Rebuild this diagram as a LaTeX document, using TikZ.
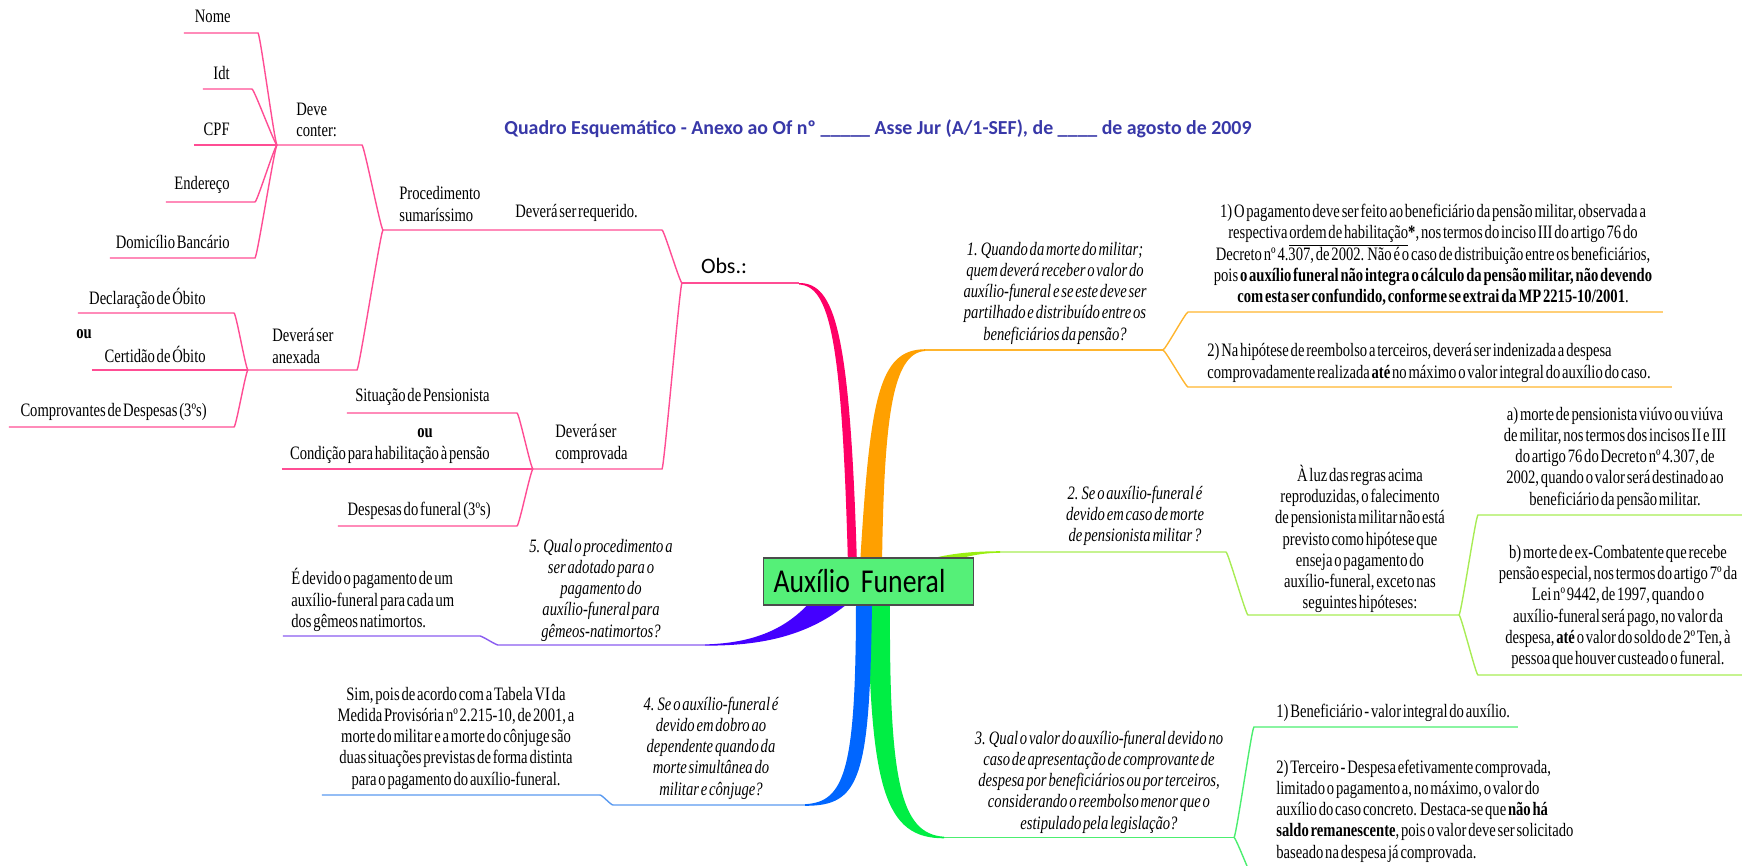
\documentclass[tikz,border=0pt]{standalone}
\usepackage{fontspec}
\setmainfont{Liberation Serif}[FakeStretch=0.77,WordSpace=0.5]
\newfontfamily\sansfont{Carlito}
\newfontfamily\ctrfont{Carlito}[FakeStretch=0.83]
\usepackage{tikz}
\definecolor{pk}{HTML}{FF0066}
\definecolor{pkl}{HTML}{FF4D94}
\definecolor{og}{HTML}{FFA000}
\definecolor{ogl}{HTML}{FFB52E}
\definecolor{lm}{HTML}{99EE11}
\definecolor{lml}{HTML}{A8EC55}
\definecolor{gn}{HTML}{00EE44}
\definecolor{gnl}{HTML}{4CEE70}
\definecolor{bl}{HTML}{0066FF}
\definecolor{bll}{HTML}{5A9AF0}
\definecolor{pu}{HTML}{4400FF}
\definecolor{pul}{HTML}{8A5CF0}
\definecolor{ttl}{HTML}{3838A8}
\definecolor{ctrfill}{HTML}{55F078}

\begin{document}
\begin{tikzpicture}[scale=0.2]
	\tikzstyle{every node}+=[inner sep=0pt]
	\tikzstyle{txt}=[font=\fontsize{10.8}{12.1}\selectfont,align=center]
	\tikzstyle{lft}=[txt,anchor=east,align=right]
	\tikzstyle{rgt}=[txt,anchor=west,align=left]
	\tikzstyle{bld}=[txt,font=\fontsize{10.8}{12.1}\selectfont\bfseries]
	\tikzstyle{qst}=[txt,font=\fontsize{10.8}{12.1}\selectfont\itshape]
	\tikzstyle{cv}=[out=0,in=180,distance=6pt]
	\tikzstyle{thin}=[line width=0.8pt]
	\useasboundingbox (0,0) rectangle (174.2,-86.5);
	\clip (0,0) rectangle (174.2,-86.5);
	\draw (87.8,-12.9) node (title) [font=\sansfont\bfseries\fontsize{11.3}{13}\selectfont,text=ttl] {Quadro Esquemático - Anexo ao Of nº \_\_\_\_\_ Asse Jur (A/1-SEF), de \_\_\_\_ de agosto de 2009};
	\draw (23.1,-1.6) node (nome) [lft] {Nome};
	\draw (23.0,-7.3) node (idt) [lft] {Idt};
	\draw (23.0,-12.9) node (cpf) [lft] {CPF};
	\draw (23.0,-18.5) node (ende) [lft] {Endereço};
	\draw (23.0,-24.2) node (dom) [lft] {Domicílio Bancário};
	\draw (29.6,-12.0) node (dvc) [rgt] {Deve\\conter:};
	\draw (39.9,-20.4) node (prc) [rgt] {Procedimento\\sumaríssimo};
	\draw (51.5,-21.3) node (req) [rgt] {Deverá ser requerido.};
	\draw (72.4,-26.6) node (obs) [font=\sansfont\fontsize{12.5}{14}\selectfont] {Obs.:};
	\draw (27.2,-34.6) node (anx) [rgt] {Deverá ser\\anexada};
	\draw (20.6,-29.8) node (decl) [lft] {Declaração de Óbito};
	\draw (8.4,-33.4) node (ou1) [bld] {ou};
	\draw (20.6,-35.4) node (cert) [lft] {Certidão de Óbito};
	\draw (20.7,-41.2) node (comp) [lft] {Comprovantes de Despesas (3ºs)};
	\draw (55.5,-44.4) node (cpv) [rgt] {Deverá ser\\comprovada};
	\draw (49.0,-39.7) node (sit) [lft] {Situação de Pensionista};
	\draw (42.5,-43.3) node (ou2) [bld] {ou};
	\draw (49.0,-45.5) node (cond) [lft] {Condição para habilitação à pensão};
	\draw (49.1,-51.1) node (desp) [lft] {Despesas do funeral (3ºs)};
	\draw (60.1,-59.0) node (q5) [qst] {5. Qual o procedimento a\\ser adotado para o\\pagamento do\\auxílio-funeral para\\gêmeos-natimortos?};
	\draw (29.1,-60.0) node (r5) [rgt] {É devido o pagamento de um\\auxílio-funeral para cada um\\dos gêmeos natimortos.};
	\draw (71.1,-74.8) node (q4) [qst] {4. Se o auxílio-funeral é\\devido em dobro ao\\dependente quando da\\morte simultânea do\\militar e cônjuge?};
	\draw (45.6,-73.8) node (r4) [txt] {Sim, pois de acordo com a Tabela VI da\\Medida Provisória nº 2.215-10, de 2001, a\\morte do militar e a morte do cônjuge são\\duas situações previstas de forma distinta\\para o pagamento do auxílio-funeral.};
	\draw (109.9,-78.2) node (q3) [qst] {3. Qual o valor do auxílio-funeral devido no\\caso de apresentação de comprovante de\\despesa por beneficiários ou por terceiros,\\considerando o reembolso menor que o\\estipulado pela legislação?};
	\draw (127.6,-71.3) node (r3a) [rgt] {1) Beneficiário - valor integral do auxílio.};
	\draw (127.6,-81.1) node (r3b) [rgt] {2) Terceiro - Despesa efetivamente comprovada,\\limitado o pagamento a, no máximo, o valor do\\auxílio do caso concreto. Destaca-se que \textbf{não há}\\\textbf{saldo remanescente}, pois o valor deve ser solicitado\\baseado na despesa já comprovada.};
	\draw (113.5,-51.6) node (q2) [qst] {2. Se o auxílio-funeral é\\devido em caso de morte\\de pensionista militar ?};
	\draw (136.0,-53.9) node (r2) [txt] {À luz das regras acima\\reproduzidas, o falecimento\\de pensionista militar não está\\previsto como hipótese que\\enseja o pagamento do\\auxílio-funeral, exceto nas\\seguintes hipóteses:};
	\draw (161.5,-45.8) node (r2a) [txt] {a) morte de pensionista viúvo ou viúva\\de militar, nos termos dos incisos II e III\\do artigo 76 do Decreto nº 4.307, de\\2002, quando o valor será destinado ao\\beneficiário da pensão militar.};
	\draw (161.8,-60.7) node (r2b) [txt] {b) morte de ex-Combatente que recebe\\pensão especial, nos termos do artigo 7º da\\Lei nº 9442, de 1997, quando o\\auxílio-funeral será pago, no valor da\\despesa, \textbf{até} o valor do soldo de 2º Ten, à\\pessoa que houver custeado o funeral.};
	\draw (105.5,-29.3) node (q1) [qst] {1. Quando da morte do militar;\\quem deverá receber o valor do\\auxílio-funeral e se este deve ser\\partilhado e distribuído entre os\\beneficiários da pensão?};
	\draw (143.3,-25.5) node (r1a) [txt] {1) O pagamento deve ser feito ao beneficiário da pensão militar, observada a\\respectiva \underline{ordem de habilitação}\textbf{*}, nos termos do inciso III do artigo 76 do\\Decreto nº 4.307, de 2002. Não é o caso de distribuição entre os beneficiários,\\pois \textbf{o auxílio funeral não integra o cálculo da pensão militar, não devendo}\\\textbf{com esta ser confundido, conforme se extrai da MP 2215-10/2001}.};
	\draw (120.7,-36.3) node (r1b) [rgt] {2) Na hipótese de reembolso a terceiros, deverá ser indenizada a despesa\\comprovadamente realizada \textbf{até} no máximo o valor integral do auxílio do caso.};
	\coordinate (jdc) at (27.7,-14.5);
	\coordinate (nomeL) at (18.4,-3.3);
	\coordinate (nomeE) at (25.8,-3.3);
	\coordinate (idtL) at (20.3,-8.9);
	\coordinate (idtE) at (25.2,-8.9);
	\coordinate (cpfL) at (19.4,-14.5);
	\coordinate (endeL) at (16.6,-20.2);
	\coordinate (endeE) at (25.5,-20.2);
	\coordinate (domL) at (11.0,-25.8);
	\coordinate (domE) at (25.5,-25.8);
	\coordinate (dvcE) at (36.2,-14.5);
	\coordinate (jps) at (38.3,-23.0);
	\coordinate (reqE) at (66.2,-23.0);
	\coordinate (jobs) at (68.2,-28.3);
	\coordinate (obsE) at (79.9,-28.3);
	\coordinate (jax) at (24.8,-37.0);
	\coordinate (anxE) at (35.7,-37.0);
	\coordinate (declL) at (7.8,-31.3);
	\coordinate (declE) at (23.4,-31.3);
	\coordinate (certL) at (9.2,-37.0);
	\coordinate (compL) at (0.9,-42.7);
	\coordinate (compE) at (23.4,-42.7);
	\coordinate (jcp) at (53.3,-46.9);
	\coordinate (cpvE) at (66.2,-46.9);
	\coordinate (sitL) at (34.7,-41.3);
	\coordinate (sitE) at (51.7,-41.3);
	\coordinate (condL) at (28.2,-46.9);
	\coordinate (despL) at (33.8,-52.6);
	\coordinate (despE) at (51.7,-52.6);
	\coordinate (r5L) at (28.3,-63.6);
	\coordinate (r5E) at (48.0,-63.6);
	\coordinate (j5) at (49.8,-64.5);
	\coordinate (q5E) at (70.5,-64.5);
	\coordinate (r4L) at (32.2,-79.5);
	\coordinate (r4E) at (60.0,-79.5);
	\coordinate (j4) at (61.3,-80.5);
	\coordinate (q4E) at (80.5,-80.5);
	\coordinate (q3S) at (94.4,-83.75);
	\coordinate (j3) at (123.4,-83.75);
	\coordinate (r3aL) at (125.4,-72.7);
	\coordinate (r3aE) at (151.8,-72.7);
	\coordinate (r3bL) at (125.6,-88.5);
	\coordinate (r3bE) at (152.0,-88.5);
	\coordinate (q2S) at (100.0,-55.2);
	\coordinate (j2) at (122.6,-55.2);
	\coordinate (r2L) at (124.8,-61.5);
	\coordinate (j2b) at (145.9,-61.5);
	\coordinate (r2aL) at (147.8,-51.5);
	\coordinate (r2aE) at (174.2,-51.5);
	\coordinate (r2bL) at (147.8,-67.5);
	\coordinate (r2bE) at (174.2,-67.5);
	\coordinate (q1S) at (92.5,-35.0);
	\coordinate (j1) at (116.3,-35.0);
	\coordinate (r1aL) at (118.8,-31.2);
	\coordinate (r1aE) at (166.3,-31.2);
	\coordinate (r1bL) at (118.8,-38.7);
	\coordinate (r1bE) at (167.2,-38.7);
	\draw [pkl,thin] (nomeL) -- (nomeE) to [cv] (jdc);
	\draw [pkl,thin] (idtL) -- (idtE) to [cv] (jdc);
	\draw [pkl,thin] (cpfL) -- (jdc);
	\draw [pkl,thin] (endeL) -- (endeE) to [cv] (jdc);
	\draw [pkl,thin] (domL) -- (domE) to [cv] (jdc);
	\draw [pkl,thin] (jdc) -- (dvcE) to [cv] (jps);
	\draw [pkl,thin] (jax) -- (anxE) to [cv] (jps);
	\draw [pkl,thin] (declL) -- (declE) to [cv] (jax);
	\draw [pkl,thin] (certL) -- (jax);
	\draw [pkl,thin] (compL) -- (compE) to [cv] (jax);
	\draw [pkl,thin] (jps) -- (reqE) to [cv] (jobs);
	\draw [pkl,thin] (sitL) -- (sitE) to [cv] (jcp);
	\draw [pkl,thin] (condL) -- (jcp);
	\draw [pkl,thin] (despL) -- (despE) to [cv] (jcp);
	\draw [pkl,thin] (jcp) -- (cpvE) to [cv] (jobs);
	\draw [pkl,line width=1pt] (jobs) -- (obsE);
	\draw [pul,thin] (r5L) -- (r5E) to [cv] (j5) -- (q5E);
	\draw [bll,thin] (r4L) -- (r4E) to [cv] (j4) -- (q4E);
	\draw [gnl,thin] (q3S) -- (j3);
	\draw [gnl,thin] (j3) to [cv] (r3aL) -- (r3aE);
	\draw [gnl,thin] (j3) to [cv] (r3bL) -- (r3bE);
	\draw [lml,thin] (q2S) -- (j2) to [cv] (r2L) -- (j2b);
	\draw [lml,thin] (j2b) to [cv] (r2aL) -- (r2aE);
	\draw [lml,thin] (j2b) to [cv] (r2bL) -- (r2bE);
	\draw [ogl,thin] (q1S) -- (j1);
	\draw [ogl,thin] (j1) to [cv] (r1aL) -- (r1aE);
	\draw [ogl,thin] (j1) to [cv] (r1bL) -- (r1bE);
	\fill [pk] (obsE) .. controls (83.5,-28.3) and (85.0,-33.0) .. (85.7,-56.5) -- (84.8,-56.5) .. controls (84.2,-34.0) and (83.0,-28.6) .. (79.9,-28.45) -- cycle;
	\fill [og] (92.5,-34.92) .. controls (87.8,-34.95) and (87.0,-40.0) .. (86.0,-56.5) -- (88.2,-56.5) .. controls (88.4,-42.0) and (89.2,-35.3) .. (92.5,-35.1) -- cycle;
	\fill [lm] (100.0,-55.12) .. controls (96.0,-55.15) and (93.0,-55.5) .. (88.5,-57.5) -- (89.0,-59.0) .. controls (93.5,-56.5) and (96.5,-55.3) .. (100.0,-55.28) -- cycle;
	\fill [gn] (86.8,-60.0) .. controls (87.0,-79.0) and (88.5,-83.83) .. (94.4,-83.83) -- (94.4,-83.67) .. controls (90.0,-83.4) and (88.9,-78.0) .. (89.0,-60.0) -- cycle;
	\fill [bl] (87.2,-60.0) .. controls (87.0,-78.0) and (86.0,-80.58) .. (80.5,-80.58) -- (80.5,-80.42) .. controls (84.5,-80.2) and (85.6,-77.0) .. (85.6,-60.0) -- cycle;
	\fill [pu] (70.5,-64.44) .. controls (76.0,-64.3) and (79.0,-62.5) .. (81.2,-60.0) -- (85.2,-60.0) .. controls (81.5,-63.2) and (77.0,-64.6) .. (70.5,-64.56) -- cycle;
	\draw (76.3,-58.15) node (ctr) [anchor=west,draw=black!70,line width=0.7pt,fill=ctrfill,inner xsep=0.2cm,text width=3.8cm,minimum height=0.94cm,align=left,font=\ctrfont\fontsize{19}{22}\selectfont] {Auxílio Funeral};
\end{tikzpicture}
\end{document}
